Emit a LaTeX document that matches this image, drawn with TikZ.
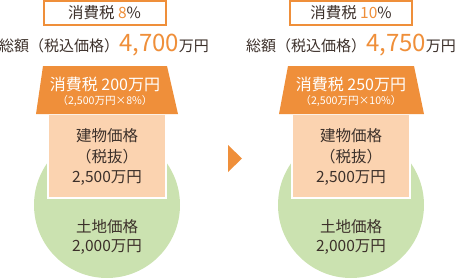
\documentclass[tikz,border=0pt]{standalone}
\usepackage{fontspec}
\setmainfont{Noto Sans CJK JP}
\definecolor{orng}{HTML}{EF8F3A}
\definecolor{peach}{HTML}{FBD3B0}
\definecolor{grn}{HTML}{CBE2B0}
\definecolor{ink}{HTML}{3C302A}
\tikzset{
  ratebox/.style={draw=orng, line width=2pt, fill=white, minimum width=122pt, minimum height=24pt, inner sep=0pt, text=ink, font=\fontsize{15.5}{17}\selectfont},
  totaltext/.style={inner sep=0pt, text=ink, font=\fontsize{15}{17}\selectfont},
  roofshape/.style={fill=orng, draw=none},
  bldg/.style={fill=peach, draw=white, line width=2pt},
  land/.style={fill=grn, draw=none},
  lbl/.style={inner sep=0pt, text=ink, align=center, font=\fontsize{15.5}{20.5}\selectfont},
  lblland/.style={inner sep=0pt, text=ink, align=center, font=\fontsize{15.5}{19.5}\selectfont},
  rooftxt/.style={inner sep=0pt, text=white, font=\fontsize{16}{18}\selectfont},
  roofsub/.style={inner sep=0pt, text=white, font=\fontsize{10.6}{12}\selectfont},
  arrowtri/.style={fill=orng, draw=none}
}
\newcommand{\bignum}[1]{\textcolor{orng}{\fontsize{24}{26}\selectfont #1}}
\begin{document}
\begin{tikzpicture}[x=1pt,y=-1pt]
\useasboundingbox (0,0) rectangle (455,279);
% ---------- left ----------
\node[land, circle, minimum size=146pt, inner sep=0pt] (landL) at (107,205) {};
\node[bldg, minimum width=118pt, minimum height=84pt, inner sep=0pt] (bldgL) at (107,156) {};
\coordinate (rtlL) at (43,66); \coordinate (rtrL) at (167,66);
\coordinate (rbrL) at (178,114); \coordinate (rblL) at (36,114);
\fill[roofshape] (rtlL) -- (rtrL) -- (rbrL) -- (rblL) -- cycle;
\node[ratebox] (rateL) at (104.5,13) {消費税 \textcolor{orng}{8}\%};
\node[totaltext] (totL) at (104,45) {総額（税込価格）\bignum{4,700}万円};
\node[rooftxt] (roofL1) at (105,84) {消費税 200万円};
\node[roofsub] (roofL2) at (105,101) {（2,500万円×8\%）};
\node[lbl] (bldgtxtL) at (107,157) {建物価格\\（税抜）\\2,500万円};
\node[lblland] (landtxtL) at (107,237) {土地価格\\2,000万円};
% ---------- arrow ----------
\coordinate (a1) at (228,145); \coordinate (a2) at (242,158.5); \coordinate (a3) at (228,172);
\fill[arrowtri] (a1) -- (a2) -- (a3) -- cycle;
% ---------- right ----------
\node[land, circle, minimum size=146pt, inner sep=0pt] (landR) at (351,205) {};
\node[bldg, minimum width=118pt, minimum height=84pt, inner sep=0pt] (bldgR) at (351,156) {};
\coordinate (rtlR) at (288,66); \coordinate (rtrR) at (414,66);
\coordinate (rbrR) at (424,114); \coordinate (rblR) at (279,114);
\fill[roofshape] (rtlR) -- (rtrR) -- (rbrR) -- (rblR) -- cycle;
\node[ratebox] (rateR) at (351,13) {消費税 \textcolor{orng}{10}\%};
\node[totaltext] (totR) at (351,45) {総額（税込価格）\bignum{4,750}万円};
\node[rooftxt] (roofR1) at (351,84) {消費税 250万円};
\node[roofsub] (roofR2) at (351,101) {（2,500万円×10\%）};
\node[lbl] (bldgtxtR) at (351,157) {建物価格\\（税抜）\\2,500万円};
\node[lblland] (landtxtR) at (351,237) {土地価格\\2,000万円};
\end{tikzpicture}
\end{document}
